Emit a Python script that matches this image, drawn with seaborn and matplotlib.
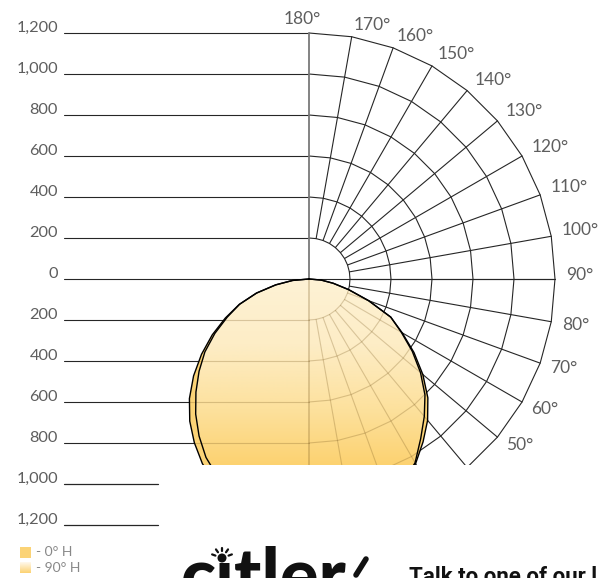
import numpy as np
import pandas as pd
import matplotlib
matplotlib.use("Agg")
import matplotlib.pyplot as plt
import seaborn as sns
from matplotlib.patches import Polygon, Rectangle, Circle
from matplotlib.colors import LinearSegmentedColormap

# ---------------- data ----------------
# signed gamma angle from nadir (negative = left half of the diagram)
gamma_deg = list(range(-90, 95, 5))
# 0° H plane (solid gold, outer curve), cd
i_0h = [0, 80, 165, 265, 362, 450, 545, 640, 735, 825, 905, 975, 1040, 1092, 1135, 1165, 1185, 1197, 1200,
        1197, 1185, 1165, 1135, 1095, 1040, 970, 900, 820, 725, 625, 525, 440, 310, 200, 120, 60, 0]
# 90° H plane (gradient, inner curve), cd
i_90h = [0, 80, 165, 265, 360, 440, 530, 620, 700, 780, 860, 935, 1005, 1060, 1105, 1140, 1165, 1180, 1185,
         1185, 1180, 1160, 1130, 1090, 1035, 950, 875, 800, 710, 615, 520, 440, 310, 200, 120, 60, 0]

ring_values = [200, 400, 600, 800, 1000, 1200]
scale_values = [0, 200, 400, 600, 800, 1000, 1200]
spoke_angles = list(range(0, 190, 10))
upper_angle_labels = [90, 100, 110, 120, 130, 140, 150, 160, 170, 180]
lower_angle_labels = [50, 60, 70, 80]
legend_labels = ["- 0° H", "- 90° H"]
logo_text = "c\u0131tler"
cta_text = "Talk to one of our l"

# ---------------- geometry ----------------
W, H = 600, 578
PX = 41 / 200.0          # pixels per cd
CX, CY = 309, 279        # pole position in pixels
CLIP_Y = 465             # diagram is cut off here
XL = (64 - CX) / PX      # left end of the scale lines
XSHORT = (158 - CX) / PX

GRID_C = "#262626"
LABEL_C = "#5e5e5e"
GOLD = "#FBD376"

sns.set_theme(style="white")
plt.rcParams["font.family"] = ["Lato", "DejaVu Sans"]

fig = plt.figure(figsize=(W / 100, H / 100), dpi=100)
fig.patch.set_facecolor("white")

ax2 = fig.add_axes([0, 0, 1, 1], zorder=0)
ax2.set_xlim(0, W)
ax2.set_ylim(H, 0)
ax2.set_axis_off()

ax = fig.add_axes([0, (H - CLIP_Y) / H, 1, CLIP_Y / H], zorder=1)
ax.patch.set_alpha(0)


def pol(r, a):
    a = np.radians(np.asarray(a, dtype=float))
    return np.asarray(r) * np.sin(a), np.asarray(r) * np.cos(a)


def draw_grid(color, lw, alpha=1.0, clip=None, z=1, vcolor="#7a7a7a", vlw=1.3):
    arts = []
    for r in ring_values:
        x, y = pol(np.full(len(spoke_angles), r), spoke_angles)
        arts += ax.plot(x, y, color=color, lw=lw, alpha=alpha, zorder=z)
    for a in spoke_angles[1:-1]:
        x, y = pol(np.array([200, 1200]), [a, a])
        arts += ax.plot(x, y, color=color, lw=lw, alpha=alpha, zorder=z)
    for v in scale_values:
        xr = 1200 if v == 0 else 0
        arts += ax.plot([XL, xr], [-v, -v], color=color, lw=lw, alpha=alpha, zorder=z)
    for v in scale_values[1:5]:
        arts += ax.plot([XL, 0], [v, v], color=color, lw=lw, alpha=alpha, zorder=z)
    arts += ax.plot([0, 0], [-1200, 1300], color=vcolor, lw=vlw, alpha=alpha, zorder=z)
    if clip is not None:
        for a in arts:
            a.set_clip_path(clip)
    return arts


# black grid
draw_grid(GRID_C, 0.8, z=1)
# short lower scale lines (outside the cut diagram)
for v in scale_values[5:]:
    ax.plot([XL, XSHORT], [v, v], color=GRID_C, lw=0.9, clip_on=False, zorder=1)

# curves
x0, y0 = pol(i_0h, gamma_deg)
x9, y9 = pol(i_90h, gamma_deg)
outer = Polygon(np.column_stack([x0, y0]), closed=True, facecolor=GOLD, edgecolor="none", zorder=2)
ax.add_patch(outer)
inner = Polygon(np.column_stack([x9, y9]), closed=True, facecolor="none", edgecolor="none", zorder=3)
ax.add_patch(inner)

cmap = LinearSegmentedColormap.from_list(
    "lum", [(0, "#FEF2D5"), (0.35, "#FDEDC6"), (0.7, "#FDE19D"), (1, "#FCD271")])
grad = np.linspace(0, 1, 256).reshape(-1, 1)
im = ax.imshow(grad, cmap=cmap, extent=(-1400, 1400, (CLIP_Y - CY) / PX, 0),
               origin="upper", aspect="auto", zorder=3, interpolation="bilinear")
im.set_clip_path(inner)

# grid seen through the fill
draw_grid("#7a5a20", 0.8, alpha=0.28, clip=outer, z=4, vcolor="#7a5a20", vlw=1.3)

df0 = pd.DataFrame({"x": x0, "y": y0})
df9 = pd.DataFrame({"x": x9, "y": y9})
sns.lineplot(data=df0, x="x", y="y", sort=False, estimator=None, color="black", lw=1.0, ax=ax, zorder=5)
sns.lineplot(data=df9, x="x", y="y", sort=False, estimator=None, color="black", lw=1.0, ax=ax, zorder=5)

# scale labels
for v in scale_values:
    lab = f"{v:,}"
    ax.text(XL - 6 / PX, -v - 5 / PX, lab, ha="right", va="center", fontsize=11.8,
            color=LABEL_C)
    if v > 0:
        ax.text(XL - 6 / PX, v - 5 / PX, lab, ha="right", va="center", fontsize=11.8,
                color=LABEL_C, clip_on=False)

# angle labels
R_LAB = 257 / PX
for a in upper_angle_labels:
    x, y = pol(R_LAB, a)
    dy = -4 * np.sin(np.radians(a)) / PX
    if a == 180:
        ax.text(x - 7 / PX, y - 3.5 / PX, f"{a}°", ha="center", va="center", fontsize=12.5,
                color=LABEL_C)
    else:
        ax.text(x, y + dy, f"{a}°", ha="left", va="center", fontsize=12.5, color=LABEL_C)
for a in lower_angle_labels:
    x, y = pol(R_LAB, a)
    ax.text(x, y + 1 / PX, f"{a}°", ha="left", va="center", fontsize=12.5, color=LABEL_C)

ax.set_xlim(-CX / PX, (W - CX) / PX)
ax.set_ylim((CLIP_Y - CY) / PX, -CY / PX)
ax.set_axis_off()

# ---------------- legend ----------------
ax2.add_patch(Rectangle((20, 547), 11, 11, facecolor=GOLD, edgecolor="none"))
lg = LinearSegmentedColormap.from_list("lg", ["#FFF9EE", "#FCD271"])
ax2.imshow(grad, cmap=lg, extent=(20, 31, 573, 562), origin="upper", aspect="auto")
ax2.text(36, 552.5, legend_labels[0], ha="left", va="center", fontsize=10, color="#888888")
ax2.text(36, 568, legend_labels[1], ha="left", va="center", fontsize=10, color="#888888")

# ---------------- logo & call to action (cut off at bottom) ----------------
ax2.text(181, 600, logo_text, ha="left", va="baseline", fontsize=52, fontweight="black",
         color="#111111", family=["Lato", "DejaVu Sans"])
ax2.add_patch(Circle((222, 558), 4.5, facecolor="#111111", edgecolor="none"))
for ang in [-70, -35, 0, 35, 70]:
    t = np.radians(ang)
    ax2.plot([222 + 7 * np.sin(t), 222 + 10.5 * np.sin(t)],
             [558 - 7 * np.cos(t), 558 - 10.5 * np.cos(t)], color="#111111", lw=1.6,
             solid_capstyle="round")
ax2.plot([356, 366], [575, 559], color="#111111", lw=4, solid_capstyle="round")
ax2.text(409, 583, cta_text, ha="left", va="baseline", fontsize=16, fontweight="bold",
         color="#111111", family=["Roboto", "DejaVu Sans"])

fig.savefig("out.png", dpi=100, facecolor="white")
